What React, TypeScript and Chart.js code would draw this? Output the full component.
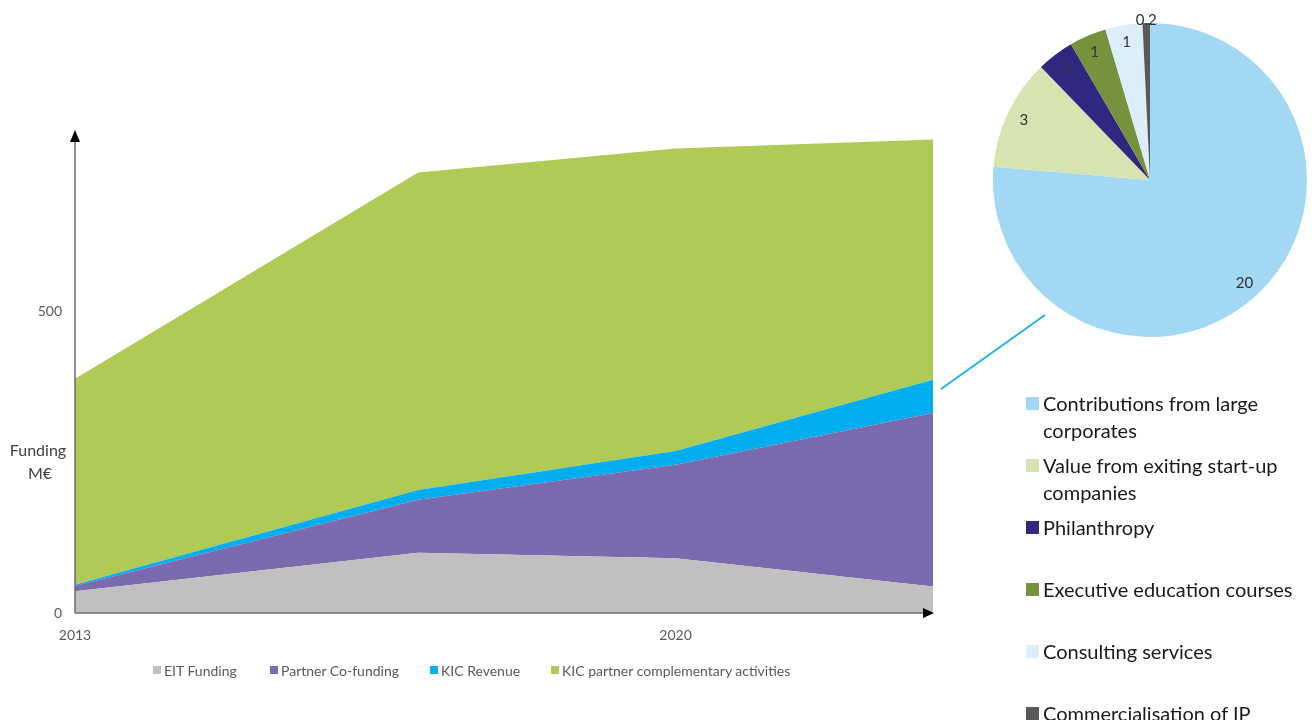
import React, { useEffect, useRef } from "react";
import { Chart, registerables } from "chart.js";

Chart.register(...registerables);

// ---------- Data ----------
const years = [2013, 2017, 2020, 2023];
const eitFunding = [36, 100, 91, 44];
const partnerCoFunding = [9, 88, 155, 288];
const kicRevenue = [2, 16, 23, 55];
const kicComplementary = [342, 527, 502, 399];
const areaSeriesNames = [
  "EIT Funding",
  "Partner Co-funding",
  "KIC Revenue",
  "KIC partner complementary activities",
];
const areaColors = ["#c0c0c0", "#7b6aae", "#00aeef", "#afca55"];
const xTickValues = [2013, 2020];
const yTickValues = [0, 500];

const pieLabels = [
  "Contributions from large corporates",
  "Value from exiting start-up companies",
  "Philanthropy",
  "Executive education courses",
  "Consulting services",
  "Commercialisation of IP",
];
const pieValues = [20, 3, 1, 1, 1, 0.2];
const pieColors = ["#a3d8f4", "#d7e4b1", "#2f2780", "#76923c", "#dbeefa", "#595959"];

const FONT = "Lato, 'Open Sans', sans-serif";

const areaDecor = {
  id: "areaDecor",
  afterDraw(chart: any) {
    const { ctx, chartArea } = chart;
    const { left, right, bottom, top } = chartArea;
    ctx.save();
    // axis lines
    ctx.strokeStyle = "#6e6e6e";
    ctx.lineWidth = 1.5;
    ctx.beginPath();
    ctx.moveTo(left, bottom);
    ctx.lineTo(left, top + 6);
    ctx.moveTo(left, bottom);
    ctx.lineTo(right - 4, bottom);
    ctx.stroke();
    // arrows
    ctx.fillStyle = "#000";
    ctx.beginPath();
    ctx.moveTo(left, top - 1);
    ctx.lineTo(left - 5, top + 11);
    ctx.lineTo(left + 5, top + 11);
    ctx.closePath();
    ctx.fill();
    ctx.beginPath();
    ctx.moveTo(right + 1, bottom);
    ctx.lineTo(right - 10, bottom - 5);
    ctx.lineTo(right - 10, bottom + 5);
    ctx.closePath();
    ctx.fill();
    // axis title
    ctx.fillStyle = "#404040";
    ctx.font = `16px ${FONT}`;
    ctx.textAlign = "center";
    ctx.textBaseline = "middle";
    ctx.fillText("Funding", 38, 451);
    ctx.fillText("M€", 40, 474);
    // connector line to pie
    ctx.strokeStyle = "#1fb3e8";
    ctx.lineWidth = 2;
    ctx.beginPath();
    ctx.moveTo(941, 389);
    ctx.lineTo(1045, 315);
    ctx.stroke();
    ctx.restore();
  },
};

const pieLabelPlugin = {
  id: "pieLabelPlugin",
  afterDatasetsDraw(chart: any) {
    const { ctx } = chart;
    const meta = chart.getDatasetMeta(0);
    const total = pieValues.reduce((a, b) => a + b, 0);
    ctx.save();
    ctx.font = `15px ${FONT}`;
    ctx.fillStyle = "#333333";
    ctx.textAlign = "center";
    ctx.textBaseline = "middle";
    meta.data.forEach((arc: any, i: number) => {
      const p = arc.getProps(["x", "y", "startAngle", "endAngle", "outerRadius"], true);
      const mid = (p.startAngle + p.endAngle) / 2;
      const share = pieValues[i] / total;
      const r = p.outerRadius * (share < 0.02 ? 1.02 : 0.89);
      ctx.fillText(String(pieValues[i]), p.x + Math.cos(mid) * r, p.y + Math.sin(mid) * r);
    });
    ctx.restore();
  },
};

export default function App() {
  const areaRef = useRef<HTMLCanvasElement | null>(null);
  const pieRef = useRef<HTMLCanvasElement | null>(null);

  useEffect(() => {
    const series = [eitFunding, partnerCoFunding, kicRevenue, kicComplementary];
    const area = new Chart(areaRef.current as HTMLCanvasElement, {
      type: "line",
      data: {
        datasets: series.map((vals, i) => ({
          label: areaSeriesNames[i],
          data: years.map((yr, j) => ({ x: yr, y: vals[j] })),
          backgroundColor: areaColors[i],
          borderColor: areaColors[i],
          borderWidth: 0,
          pointRadius: 0,
          tension: 0,
          fill: i === 0 ? "origin" : "-1",
        })),
      },
      options: {
        animation: false,
        responsive: false,
        layout: { padding: { top: 131, right: 379, bottom: 67, left: 0 } },
        plugins: { legend: { display: false }, tooltip: { enabled: false } },
        scales: {
          x: {
            type: "linear",
            min: 2013,
            max: 2023,
            grid: { display: false, drawTicks: false },
            border: { display: false },
            ticks: {
              padding: 14,
              color: "#595959",
              font: { family: FONT, size: 14 },
              callback: (v: any) => String(v),
            },
            afterBuildTicks: (s: any) => {
              s.ticks = xTickValues.map((v) => ({ value: v }));
            },
            afterFit: (s: any) => {
              s.height = 40;
            },
          },
          y: {
            stacked: true,
            min: 0,
            max: 800,
            grid: { display: false, drawTicks: false },
            border: { display: false },
            ticks: {
              padding: 13,
              color: "#595959",
              font: { family: FONT, size: 14 },
              callback: (v: any) => String(v),
            },
            afterBuildTicks: (s: any) => {
              s.ticks = yTickValues.map((v) => ({ value: v }));
            },
            afterFit: (s: any) => {
              s.width = 75;
            },
          },
        },
      },
      plugins: [areaDecor],
    } as any);

    const pie = new Chart(pieRef.current as HTMLCanvasElement, {
      type: "pie",
      data: {
        labels: pieLabels,
        datasets: [
          {
            data: pieValues,
            backgroundColor: pieColors,
            borderWidth: 0,
          },
        ],
      },
      options: {
        animation: false,
        responsive: false,
        layout: { padding: { top: 23, bottom: 23, left: 13, right: 13 } },
        plugins: { legend: { display: false }, tooltip: { enabled: false } },
      },
      plugins: [pieLabelPlugin],
    } as any);

    return () => {
      area.destroy();
      pie.destroy();
    };
  }, []);

  const bottomLegendX = [153, 270, 430, 551];

  return (
    <div style={{ position: "absolute", left: 0, top: 0, width: 1312, height: 720, background: "#fff", overflow: "hidden" }}>
      <canvas ref={areaRef} width={1312} height={720} style={{ position: "absolute", left: 0, top: 0, width: 1312, height: 720 }} />
      <canvas ref={pieRef} width={340} height={360} style={{ position: "absolute", left: 980, top: 0, width: 340, height: 360 }} />
      {areaSeriesNames.map((name, i) => (
        <div
          key={name}
          style={{
            position: "absolute",
            left: bottomLegendX[i],
            top: 661,
            height: 18,
            display: "flex",
            alignItems: "center",
            fontFamily: FONT,
            fontSize: 14,
            color: "#595959",
            whiteSpace: "nowrap",
          }}
        >
          <span style={{ display: "inline-block", width: 8, height: 8, background: areaColors[i], marginRight: 3 }} />
          {name}
        </div>
      ))}
      {pieLabels.map((name, i) => (
        <div
          key={name}
          style={{
            position: "absolute",
            left: 1026,
            top: 403 + 62 * i - 13.5,
            width: 284,
            display: "flex",
            alignItems: "flex-start",
            fontFamily: FONT,
            fontSize: 20,
            lineHeight: "27px",
            color: "#1a1a1a",
          }}
        >
          <span
            style={{
              flex: "0 0 auto",
              display: "inline-block",
              width: 13,
              height: 13,
              background: pieColors[i],
              marginTop: 7,
              marginRight: 4,
            }}
          />
          <span>{name}</span>
        </div>
      ))}
    </div>
  );
}
